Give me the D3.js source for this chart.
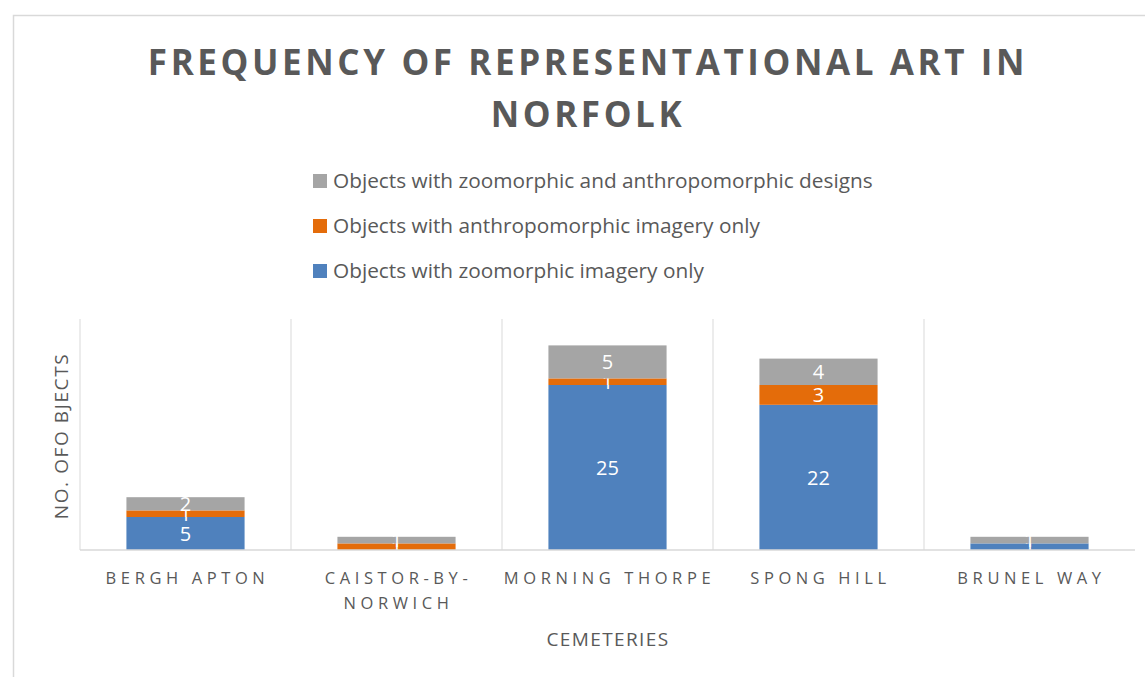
<!DOCTYPE html>
<html>
<head>
<meta charset="utf-8">
<script src="https://cdn.jsdelivr.net/npm/d3@7"></script>
<style>
  body { margin: 0; background: #fff; }
  text { font-family: "Open Sans", "Noto Sans", sans-serif; fill: #595959; }
</style>
</head>
<body>
<div id="chart"></div>
<script>
const width = 1145;
const height = 677;

// data
const cemeteries = ["BERGH APTON", "CAISTOR-BY-NORWICH", "MORNING THORPE", "SPONG HILL", "BRUNEL WAY"];
const zooOnly = [5, 0, 25, 22, 1];
const anthroOnly = [1, 1, 1, 3, 0];
const bothDesigns = [2, 1, 5, 4, 1];

const seriesNames = [
  "Objects with zoomorphic imagery only",
  "Objects with anthropomorphic imagery only",
  "Objects with zoomorphic and anthropomorphic designs"
];
const colors = ["#4f81bd", "#e46c0a", "#a5a5a5"];

const rows = cemeteries.map((c, i) => ({ name: c, zoo: zooOnly[i], anthro: anthroOnly[i], both: bothDesigns[i] }));
const keys = ["zoo", "anthro", "both"];
const stacked = d3.stack().keys(keys)(rows);

const plot = { left: 80, right: 1135, top: 319, bottom: 550 };

const x = d3.scaleBand()
  .domain(cemeteries)
  .range([plot.left, plot.right])
  .paddingInner(0)
  .paddingOuter(0);

const y = d3.scaleLinear()
  .domain([0, 35])
  .range([plot.bottom, plot.top]);

const svg = d3.select("#chart").append("svg")
  .attr("width", width)
  .attr("height", height);

// chart border
svg.append("rect")
  .attr("x", 13.5).attr("y", 15.5)
  .attr("width", 1160).attr("height", 700)
  .attr("fill", "none")
  .attr("stroke", "#d9d9d9")
  .attr("stroke-width", 1.5);

// title
const title = svg.append("text")
  .attr("text-anchor", "middle")
  .style("font-size", "35px")
  .style("font-weight", "bold")
  .style("letter-spacing", "3.6px");
title.append("tspan").attr("x", 588).attr("y", 75).text("FREQUENCY OF REPRESENTATIONAL ART IN");
title.append("tspan").attr("x", 588).attr("y", 127).text("NORFOLK");

// legend (reversed order)
const legend = svg.append("g");
[2, 1, 0].forEach((s, j) => {
  const ly = 181 + j * 45;
  legend.append("rect")
    .attr("x", 313).attr("y", ly - 7)
    .attr("width", 14).attr("height", 14)
    .attr("fill", colors[s]);
  legend.append("text")
    .attr("x", 333).attr("y", ly)
    .attr("dy", "0.35em")
    .style("font-size", "20.8px")
    .text(seriesNames[s]);
});

// vertical gridlines at category boundaries
const bounds = cemeteries.map(c => x(c)).concat([plot.right]);
svg.append("g").selectAll("line")
  .data(bounds.slice(1, -1))
  .enter().append("line")
  .attr("x1", d => d).attr("x2", d => d)
  .attr("y1", plot.top).attr("y2", plot.bottom)
  .attr("stroke", "#d9d9d9");

svg.append("line")
  .attr("x1", plot.left).attr("x2", plot.left)
  .attr("y1", plot.top).attr("y2", plot.bottom)
  .attr("stroke", "#d9d9d9");

// bars
const barW = x.bandwidth() * 0.56;
const layers = svg.append("g").selectAll("g")
  .data(stacked)
  .enter().append("g")
  .attr("fill", (d, i) => colors[i]);

layers.selectAll("rect")
  .data(d => d)
  .enter().append("rect")
  .attr("x", d => x(d.data.name) + (x.bandwidth() - barW) / 2)
  .attr("y", d => y(d[1]))
  .attr("width", barW)
  .attr("height", d => y(d[0]) - y(d[1]));

// data labels
layers.selectAll("text")
  .data(d => d.filter(p => p[1] - p[0] > 0))
  .enter().append("text")
  .attr("x", d => x(d.data.name) + x.bandwidth() / 2)
  .attr("y", d => y((d[0] + d[1]) / 2))
  .attr("dy", "0.36em")
  .attr("text-anchor", "middle")
  .style("font-size", "20px")
  .style("fill", "#fff")
  .text(d => d[1] - d[0]);

// baseline
svg.append("line")
  .attr("x1", plot.left).attr("x2", plot.right)
  .attr("y1", plot.bottom).attr("y2", plot.bottom)
  .attr("stroke", "#d9d9d9")
  .attr("stroke-width", 1.5);

// category labels
const labelLines = {
  "CAISTOR-BY-NORWICH": ["CAISTOR-BY-", "NORWICH"]
};
const xLabels = svg.append("g");
cemeteries.forEach(c => {
  const lines = labelLines[c] || [c];
  const t = xLabels.append("text")
    .attr("text-anchor", "middle")
    .style("font-size", "16.5px")
    .style("letter-spacing", "4.6px");
  lines.forEach((ln, k) => {
    t.append("tspan")
      .attr("x", x(c) + x.bandwidth() / 2 + 2)
      .attr("y", 584 + k * 25)
      .text(ln);
  });
});

// axis titles
svg.append("text")
  .attr("x", 608).attr("y", 646)
  .attr("text-anchor", "middle")
  .style("font-size", "19px")
  .style("letter-spacing", "1.4px")
  .text("CEMETERIES");

svg.append("text")
  .attr("transform", "translate(68,436) rotate(-90)")
  .attr("text-anchor", "middle")
  .style("font-size", "19px")
  .style("letter-spacing", "1.6px")
  .text("NO. OFO BJECTS");
</script>
</body>
</html>
